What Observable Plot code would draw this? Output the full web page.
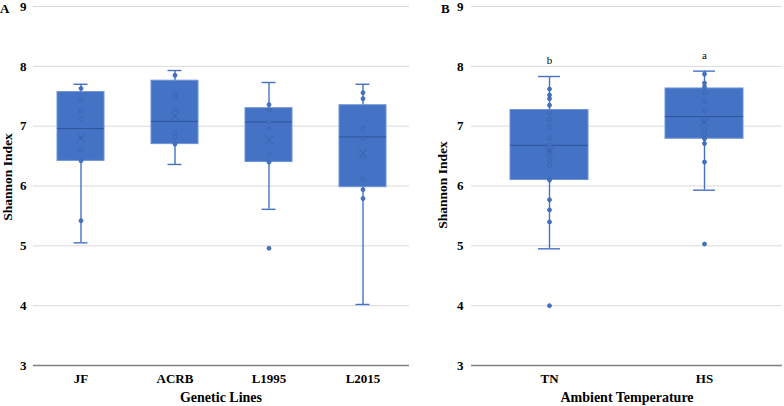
<!DOCTYPE html>
<html>
<head>
<meta charset="utf-8">
<script src="https://cdn.jsdelivr.net/npm/d3@7"></script>
<script src="https://cdn.jsdelivr.net/npm/@observablehq/plot@0.6"></script>
<style>
  body { margin: 0; background: #fff; }
  #wrap { position: relative; width: 784px; height: 406px; font-family: "Liberation Serif", "Times New Roman", serif; overflow: hidden; }
  .panel { position: absolute; top: 0; }
  .tag { position: absolute; font-weight: bold; font-size: 13px; line-height: 1; }
  .xt { position: absolute; font-weight: bold; font-size: 14px; line-height: 1; white-space: nowrap; transform: translateX(-50%); top: 391px; }
  .yt { position: absolute; font-weight: bold; font-size: 13.5px; line-height: 1; white-space: nowrap; transform: translate(-50%, -50%) rotate(-90deg); }
</style>
</head>
<body>
<div id="wrap">
  <div id="pa" class="panel" style="left:0"></div>
  <div id="pb" class="panel" style="left:420px"></div>
  <div class="tag" style="left:0px;top:2px">A</div>
  <div class="tag" style="left:441px;top:2px">B</div>
  <div class="xt" style="left:221px">Genetic Lines</div>
  <div class="xt" style="left:627px">Ambient Temperature</div>
  <div class="yt" style="left:8px;top:177px">Shannon Index</div>
  <div class="yt" style="left:443px;top:185px">Shannon Index</div>
</div>
<script>
// Panel A: genetic lines
const groupsA = ["JF", "ACRB", "L1995", "L2015"];
const minA  = [5.05, 6.36, 5.61, 4.02];
const q1A   = [6.42, 6.70, 6.40, 5.98];
const medA  = [6.96, 7.08, 7.07, 6.82];
const q3A   = [7.57, 7.76, 7.30, 7.35];
const maxA  = [7.70, 7.93, 7.73, 7.70];
const meanA = [6.80, 7.17, 6.77, 6.55];
const ptsJF    = [7.63, 7.43, 7.25, 7.12, 6.80, 6.61, 6.42, 5.42];
const ptsACRB  = [7.85, 7.53, 7.48, 7.28, 6.89, 6.82, 6.70];
const ptsL1995 = [7.36, 7.27, 7.07, 6.96, 6.54, 6.40, 4.96];
const ptsL2015 = [7.56, 7.46, 6.96, 6.79, 6.48, 6.12, 5.94, 5.79];

// Panel B: ambient temperature
const groupsB = ["TN", "HS"];
const minB  = [4.95, 5.93];
const q1B   = [6.10, 6.79];
const medB  = [6.68, 7.16];
const q3B   = [7.27, 7.63];
const maxB  = [7.83, 7.92];
const meanB = [6.58, 7.07];
const lettersB = ["b", "a"];
const ptsTN = [7.62, 7.52, 7.46, 7.35, 7.23, 7.11, 6.99, 6.80, 6.68, 6.59, 6.55, 6.47, 6.42, 6.34, 6.10, 5.77, 5.60, 5.40, 4.00];
const ptsHS = [7.87, 7.72, 7.66, 7.56, 7.42, 7.27, 7.07, 6.95, 6.86, 6.79, 6.71, 6.40, 5.03];

const yTicks = [3, 4, 5, 6, 7, 8, 9];

const BLUE = "#4472c4";
const DARK = "#2f5597";

function panel({groups, mins, q1s, meds, q3s, maxs, means, pts, letters, width, marginLeft, marginRight, capInset, tickPadding}) {
  const stats = groups.map((g, i) => ({g, min: mins[i], q1: q1s[i], med: meds[i], q3: q3s[i], max: maxs[i], mean: means[i], letter: letters ? letters[i] : null}));
  const points = groups.flatMap((g, i) => pts[i].map(v => ({g, v})));
  return Plot.plot({
    width, height: 406,
    marginTop: 6, marginBottom: 41, marginLeft, marginRight,
    style: {fontFamily: "Liberation Serif, Times New Roman, serif", fontSize: "13px", fontWeight: "bold", color: "#000", background: "#fff", overflow: "visible"},
    x: {domain: groups, paddingInner: 0.5, paddingOuter: 0.25},
    y: {domain: [3, 9]},
    marks: [
      Plot.gridY([4, 5, 6, 7, 8, 9], {stroke: "#d9d9d9", strokeOpacity: 1}),
      Plot.ruleY([3], {stroke: "#7f7f7f", strokeWidth: 1.3}),
      Plot.axisY(yTicks, {tickSize: 0, tickPadding, tickFormat: d => String(d), label: null, line: true, stroke: "#595959"}),
      Plot.axisX({tickSize: 0, tickPadding: 8, label: null}),
      // whiskers
      Plot.ruleX(stats, {x: "g", y1: "min", y2: "max", stroke: BLUE, strokeWidth: 1.4}),
      Plot.tickY(stats, {x: "g", y: "min", stroke: BLUE, strokeWidth: 1.4, insetLeft: capInset, insetRight: capInset}),
      Plot.tickY(stats, {x: "g", y: "max", stroke: BLUE, strokeWidth: 1.4, insetLeft: capInset, insetRight: capInset}),
      // box
      Plot.barY(stats, {x: "g", y1: "q1", y2: "q3", fill: BLUE, stroke: "#6f93d6", strokeWidth: 1}),
      Plot.tickY(stats, {x: "g", y: "med", stroke: DARK, strokeWidth: 1}),
      // data points
      Plot.dot(points, {x: "g", y: "v", r: 2, fill: BLUE, stroke: "#3b64b0", strokeWidth: 0.8}),
      // mean markers
      Plot.dot(stats, {x: "g", y: "mean", symbol: "times", r: 4, stroke: "#3a62ad", strokeWidth: 1}),
      // significance letters
      letters ? Plot.text(stats, {x: "g", y: "max", text: "letter", dy: -16, fontWeight: "normal", fontSize: 11, fill: "#000"}) : null
    ]
  });
}

document.getElementById("pa").appendChild(panel({
  groups: groupsA, mins: minA, q1s: q1A, meds: medA, q3s: q3A, maxs: maxA, means: meanA,
  pts: [ptsJF, ptsACRB, ptsL1995, ptsL2015], letters: null,
  width: 420, marginLeft: 33, marginRight: 11, capInset: 16.5, tickPadding: 7
}));
document.getElementById("pb").appendChild(panel({
  groups: groupsB, mins: minB, q1s: q1B, meds: medB, q3s: q3B, maxs: maxB, means: meanB,
  pts: [ptsTN, ptsHS], letters: lettersB,
  width: 364, marginLeft: 51, marginRight: 2, capInset: 28, tickPadding: 8
}));
</script>
</body>
</html>
